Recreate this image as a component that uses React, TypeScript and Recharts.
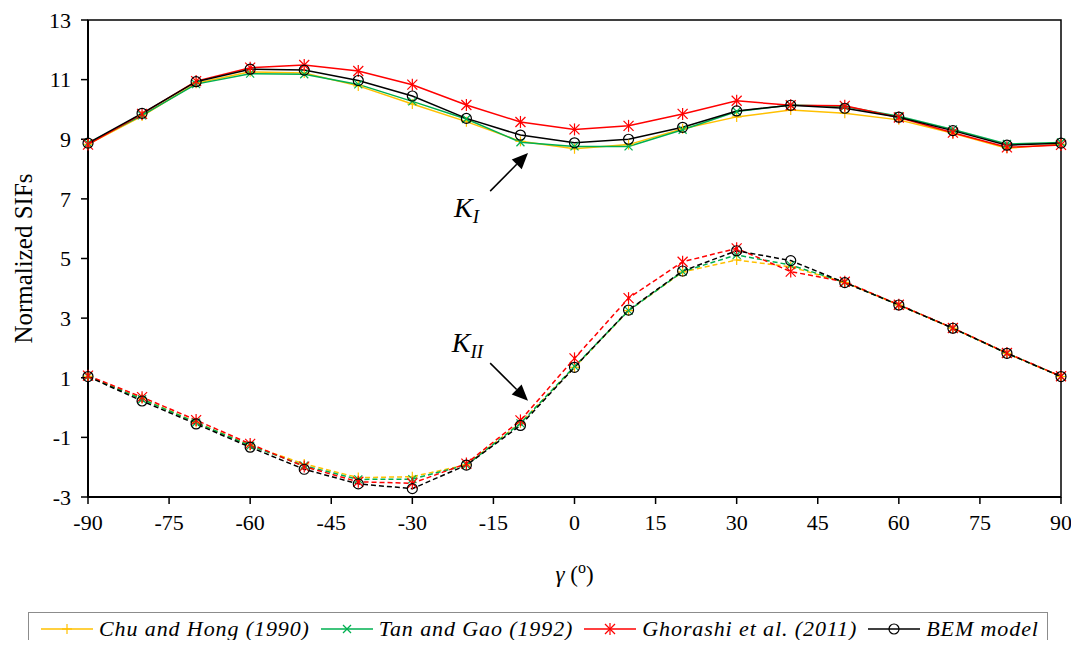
import { LineChart, Line, XAxis, YAxis, ReferenceArea, ReferenceLine, ReferenceDot, Legend } from "recharts";

// angle gamma (deg)
const ANGLES = [-90, -80, -70, -60, -50, -40, -30, -20, -10, 0, 10, 20, 30, 40, 50, 60, 70, 80, 90];

// K_I
const KI_CHU = [8.83, 9.78, 10.88, 11.26, 11.22, 10.79, 10.18, 9.59, 8.93, 8.68, 8.82, 9.35, 9.75, 9.98, 9.87, 9.65, 9.2, 8.7, 8.83];
const KI_TAN = [8.87, 9.8, 10.85, 11.2, 11.18, 10.84, 10.27, 9.68, 8.9, 8.76, 8.76, 9.32, 9.93, 10.15, 10.1, 9.77, 9.33, 8.84, 8.89];
const KI_GHO = [8.82, 9.85, 10.95, 11.4, 11.49, 11.29, 10.83, 10.15, 9.58, 9.33, 9.45, 9.85, 10.29, 10.14, 10.12, 9.73, 9.22, 8.73, 8.81];
const KI_BEM = [8.87, 9.87, 10.93, 11.35, 11.32, 10.97, 10.45, 9.7, 9.14, 8.88, 9.0, 9.4, 9.95, 10.14, 10.04, 9.74, 9.29, 8.8, 8.87];

// K_II
const KII_CHU = [1.05, 0.3, -0.5, -1.27, -1.89, -2.35, -2.32, -1.92, -0.52, 1.35, 3.25, 4.55, 4.95, 4.72, 4.2, 3.44, 2.66, 1.82, 1.04];
const KII_TAN = [1.05, 0.28, -0.5, -1.28, -1.95, -2.41, -2.4, -1.93, -0.53, 1.38, 3.25, 4.56, 5.12, 4.78, 4.2, 3.44, 2.66, 1.82, 1.04];
const KII_GHO = [1.07, 0.35, -0.42, -1.22, -1.98, -2.49, -2.54, -1.88, -0.43, 1.65, 3.67, 4.89, 5.34, 4.56, 4.22, 3.45, 2.67, 1.83, 1.05];
const KII_BEM = [1.04, 0.22, -0.55, -1.33, -2.07, -2.56, -2.72, -1.93, -0.6, 1.35, 3.27, 4.58, 5.26, 4.93, 4.19, 3.44, 2.66, 1.82, 1.04];

const X_TICKS = [-90, -75, -60, -45, -30, -15, 0, 15, 30, 45, 60, 75, 90];
const Y_TICKS = [-3, -1, 1, 3, 5, 7, 9, 11, 13];

const SOURCES = ["Chu and Hong (1990)", "Tan and Gao (1992)", "Ghorashi et al. (2011)", "BEM model"];
const COLORS = ["#FFC000", "#00B050", "#FF0000", "#000000"];
const MARKERS = ["plus", "cross", "star", "circle"];

const rows = ANGLES.map((g, i) => ({
  g,
  chuI: KI_CHU[i], tanI: KI_TAN[i], ghoI: KI_GHO[i], bemI: KI_BEM[i],
  chuII: KII_CHU[i], tanII: KII_TAN[i], ghoII: KII_GHO[i], bemII: KII_BEM[i],
}));

const KEYS_I = ["chuI", "tanI", "ghoI", "bemI"];
const KEYS_II = ["chuII", "tanII", "ghoII", "bemII"];

const FONT = "Liberation Serif, Times New Roman, Times, DejaVu Serif, serif";

function Marker({ cx, cy, kind, color }: any) {
  if (cx == null || cy == null) return null;
  if (kind === "plus") {
    const s = 5;
    return (
      <g stroke={color} strokeWidth={1.2}>
        <line x1={cx - s} y1={cy} x2={cx + s} y2={cy} />
        <line x1={cx} y1={cy - s} x2={cx} y2={cy + s} />
      </g>
    );
  }
  if (kind === "cross") {
    const s = 4;
    return (
      <g stroke={color} strokeWidth={1.2}>
        <line x1={cx - s} y1={cy - s} x2={cx + s} y2={cy + s} />
        <line x1={cx - s} y1={cy + s} x2={cx + s} y2={cy - s} />
      </g>
    );
  }
  if (kind === "star") {
    const s = 5;
    return (
      <g stroke={color} strokeWidth={1.2}>
        <line x1={cx - s} y1={cy - s} x2={cx + s} y2={cy + s} />
        <line x1={cx - s} y1={cy + s} x2={cx + s} y2={cy - s} />
        <line x1={cx} y1={cy - s - 1} x2={cx} y2={cy + s + 1} />
      </g>
    );
  }
  return <circle cx={cx} cy={cy} r={5} fill="none" stroke={color} strokeWidth={1.2} />;
}

function Arrow(p: any) {
  const { x1, y1, x2, y2 } = p;
  if ([x1, y1, x2, y2].some((v) => v == null || isNaN(v))) return null;
  const a = Math.atan2(y2 - y1, x2 - x1);
  const L = 16;
  const W = 7;
  const bx = x2 - L * Math.cos(a);
  const by = y2 - L * Math.sin(a);
  const px = -Math.sin(a) * W;
  const py = Math.cos(a) * W;
  return (
    <g>
      <line x1={x1} y1={y1} x2={bx} y2={by} stroke="#000" strokeWidth={1.5} />
      <polygon points={`${x2},${y2} ${bx + px},${by + py} ${bx - px},${by - py}`} fill="#000" />
    </g>
  );
}

function KLabel({ cx, cy, sub }: any) {
  if (cx == null || cy == null) return null;
  return (
    <text x={cx} y={cy} fontFamily={FONT} fontStyle="italic" fontSize={28} fill="#000">
      K
      <tspan fontSize={19} dy={6}>{sub}</tspan>
    </text>
  );
}

function LegendBox() {
  return (
    <div
      style={{
        border: "1px solid #8c8c8c",
        height: 34,
        display: "flex",
        alignItems: "center",
        fontFamily: FONT,
        fontStyle: "italic",
        fontSize: 22,
        letterSpacing: 0.9,
        paddingLeft: 12,
        boxSizing: "border-box",
        background: "#fff",
      }}
    >
      {SOURCES.map((name, i) => (
        <div key={name} style={{ display: "flex", alignItems: "center", marginRight: 11 }}>
          <svg width={52} height={20} style={{ marginRight: 6 }}>
            <line x1={0} y1={10} x2={52} y2={10} stroke={COLORS[i]} strokeWidth={1.5} />
            <Marker cx={26} cy={10} kind={MARKERS[i]} color={COLORS[i]} />
          </svg>
          <span style={{ whiteSpace: "nowrap" }}>{name}</span>
        </div>
      ))}
    </div>
  );
}

export default function App() {
  const tickStyle = { fill: "#000", fontSize: 22, fontFamily: FONT };
  return (
    <div style={{ position: "relative", width: 1063, height: 632 }}>
      <LineChart width={1063} height={632} data={rows} margin={{ top: 12, right: 10, left: 8, bottom: 49 }}>
        <ReferenceArea x1={-90} x2={90} y1={-3} y2={13} fill="none" stroke="#000" strokeWidth={1.5} />
        <XAxis
          dataKey="g"
          type="number"
          domain={[-90, 90]}
          ticks={X_TICKS}
          interval={0}
          height={60}
          tickSize={7}
          tickMargin={10}
          axisLine={{ stroke: "#000", strokeWidth: 2 }}
          tickLine={{ stroke: "#000", strokeWidth: 1.5 }}
          tick={tickStyle}
          label={{
            content: (p: any) => {
              const vb = p.viewBox ?? { x: 80, y: 489, width: 973, height: 60 };
              return (
                <text x={vb.x + vb.width / 2} y={vb.y + 85} textAnchor="middle" fontFamily={FONT} fontSize={23} fill="#000">
                  <tspan fontStyle="italic">γ</tspan>
                  <tspan> (</tspan>
                  <tspan fontSize={16} dy={-9}>o</tspan>
                  <tspan dy={9}>)</tspan>
                </text>
              );
            },
          }}
        />
        <YAxis
          type="number"
          domain={[-3, 13]}
          ticks={Y_TICKS}
          interval={0}
          width={72}
          tickSize={7}
          tickMargin={10}
          axisLine={{ stroke: "#000", strokeWidth: 2 }}
          tickLine={{ stroke: "#000", strokeWidth: 1.5 }}
          tick={tickStyle}
          label={{
            content: (p: any) => {
              const vb = p.viewBox ?? { x: 8, y: 12, width: 72, height: 477 };
              const x = vb.x + 7;
              const y = vb.y + vb.height / 2;
              return (
                <text
                  x={x}
                  y={y}
                  transform={`rotate(-90, ${x}, ${y})`}
                  textAnchor="middle"
                  dominantBaseline="central"
                  fontFamily={FONT}
                  fontSize={25}
                  fill="#000"
                >
                  Normalized SIFs
                </text>
              );
            },
          }}
        />
        {KEYS_I.map((k, i) => (
          <Line
            key={k}
            dataKey={k}
            stroke={COLORS[i]}
            strokeWidth={1.5}
            isAnimationActive={false}
            activeDot={false}
            dot={(p: any) => <Marker key={`${k}-${p.index}`} cx={p.cx} cy={p.cy} kind={MARKERS[i]} color={COLORS[i]} />}
          />
        ))}
        {KEYS_II.map((k, i) => (
          <Line
            key={k}
            dataKey={k}
            stroke={COLORS[i]}
            strokeWidth={1.5}
            strokeDasharray="5 3"
            isAnimationActive={false}
            activeDot={false}
            dot={(p: any) => <Marker key={`${k}-${p.index}`} cx={p.cx} cy={p.cy} kind={MARKERS[i]} color={COLORS[i]} />}
          />
        ))}
        <ReferenceLine segment={[{ x: -15.6, y: 7.26 }, { x: -8.6, y: 8.54 }]} shape={(p: any) => <Arrow {...p} />} />
        <ReferenceLine segment={[{ x: -15.6, y: 1.49 }, { x: -8.6, y: 0.23 }]} shape={(p: any) => <Arrow {...p} />} />
        <ReferenceDot x={-22.3} y={6.4} r={0} shape={(p: any) => <KLabel cx={p.cx} cy={p.cy} sub="I" />} />
        <ReferenceDot x={-22.7} y={1.86} r={0} shape={(p: any) => <KLabel cx={p.cx} cy={p.cy} sub="II" />} />
        <Legend
          layout="vertical"
          align="center"
          verticalAlign="bottom"
          wrapperStyle={{ left: 20, top: 604, width: 1020, height: 34 }}
          content={() => <LegendBox />}
        />
      </LineChart>
    </div>
  );
}
